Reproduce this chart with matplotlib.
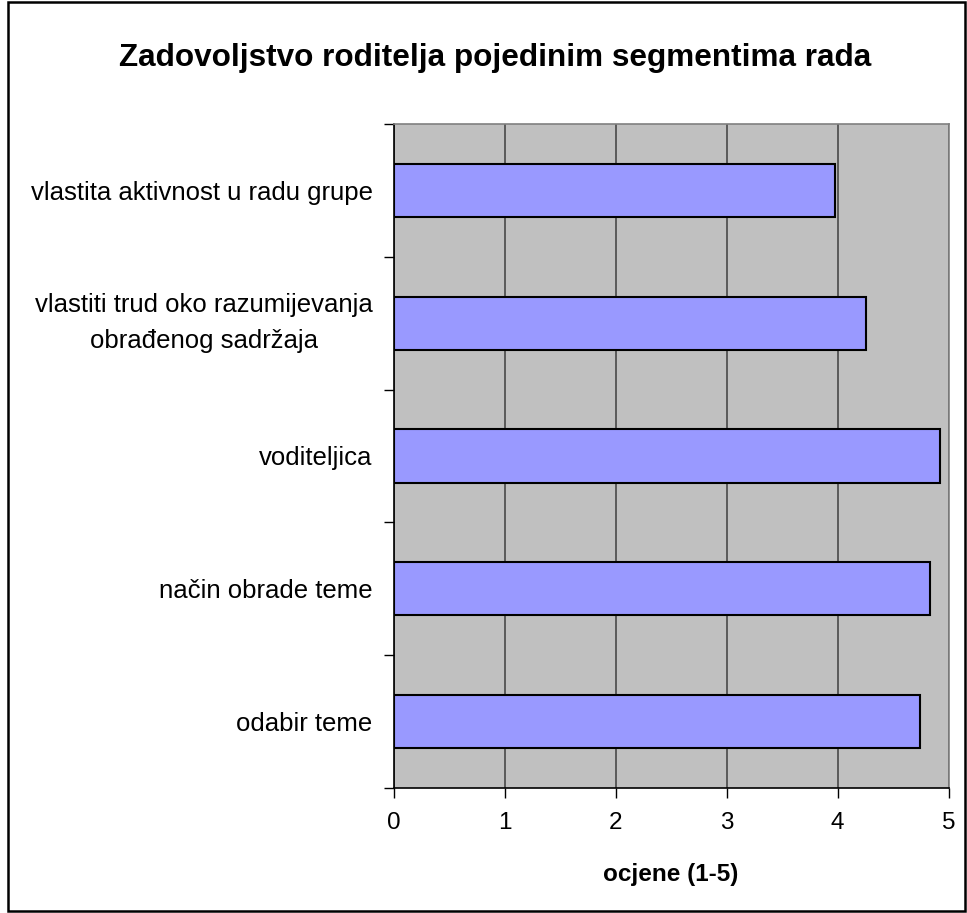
import matplotlib
matplotlib.use("Agg")
import matplotlib.pyplot as plt
from matplotlib.patches import Rectangle
import numpy as np

plt.rcParams['font.family'] = ['Liberation Sans', 'DejaVu Sans']

categories = ["odabir teme", "način obrade teme", "voditeljica",
              "vlastiti trud oko razumijevanja\nobrađenog sadržaja",
              "vlastita aktivnost u radu grupe"]
values = [4.74, 4.83, 4.92, 4.255, 3.98]
x_ticks = [0, 1, 2, 3, 4, 5]
title = "Zadovoljstvo roditelja pojedinim segmentima rada"
xlabel = "ocjene (1-5)"

fig = plt.figure(figsize=(9.67, 9.13), dpi=100)
fig.patches.append(Rectangle((0.008, 0.002), 0.990, 0.996, transform=fig.transFigure,
                             fill=False, edgecolor='black', linewidth=1.8))
ax = fig.add_axes([0.407, 0.1369, 0.574, 0.7273])
ax.set_facecolor('#C0C0C0')

y = np.arange(len(categories))
ax.barh(y, values, height=0.4, color='#9999FF', edgecolor='black', linewidth=1.5, zorder=3)
ax.set_xlim(0, 5)
ax.set_ylim(-0.5, len(categories) - 0.5)
ax.set_xticks(x_ticks)
ax.set_xticklabels([str(t) for t in x_ticks], fontsize=17.5)
ax.grid(axis='x', color='#484848', linewidth=1.2, zorder=1)
ax.set_axisbelow(True)

ax.set_yticks(y)
ax.set_yticklabels(categories, fontsize=18.5, multialignment='center', linespacing=1.6)
for lbl in ax.get_yticklabels():
    if "\n" in lbl.get_text():
        lbl.set_verticalalignment('center')
ax.set_yticks(np.arange(-0.5, len(categories), 1.0), minor=True)
ax.tick_params(axis='y', which='major', length=0, pad=15)
ax.tick_params(axis='y', which='minor', length=7, width=1, direction='out')
ax.tick_params(axis='x', which='major', length=7, width=1, direction='out', pad=10)

for s in ['top', 'right']:
    ax.spines[s].set_color('#808080')
    ax.spines[s].set_linewidth(1.2)
for s in ['left', 'bottom']:
    ax.spines[s].set_color('black')
    ax.spines[s].set_linewidth(1.2)

ax.set_xlabel(xlabel, fontsize=17.5, fontweight='bold', labelpad=21)
fig.text(0.512, 0.937, title, fontsize=22.7, fontweight='bold', ha='center', va='center')

fig.savefig("out.png", dpi=100)
